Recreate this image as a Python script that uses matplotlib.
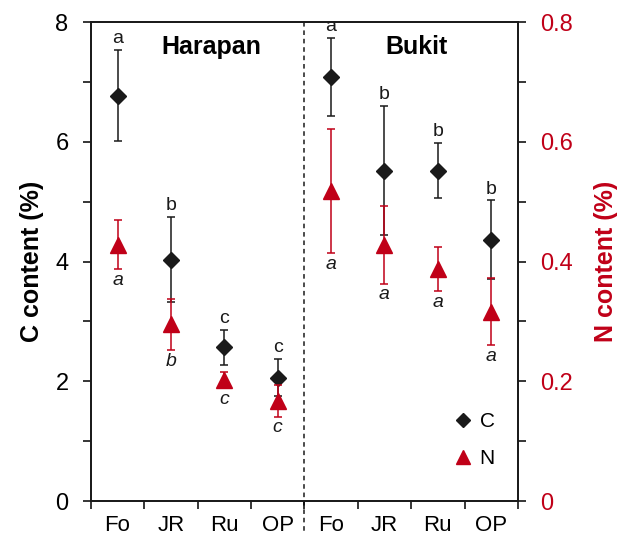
import matplotlib
matplotlib.use('Agg')
import matplotlib.pyplot as plt
from matplotlib.lines import Line2D
import numpy as np

# --- Data: Harapan (Fo, JR, Ru, OP) then Bukit (Fo, JR, Ru, OP) ---
land_use = ['Fo', 'JR', 'Ru', 'OP', 'Fo', 'JR', 'Ru', 'OP']
landscapes = ['Harapan', 'Bukit']

c_mean = [6.77, 4.03, 2.57, 2.06, 7.08, 5.52, 5.52, 4.36]
c_err = [0.76, 0.71, 0.29, 0.31, 0.65, 1.08, 0.46, 0.66]
c_letters = ['a', 'b', 'c', 'c', 'a', 'b', 'b', 'b']

n_mean = [0.428, 0.295, 0.202, 0.167, 0.518, 0.428, 0.387, 0.316]
n_err = [0.041, 0.043, 0.014, 0.026, 0.104, 0.065, 0.037, 0.056]
n_letters = ['a', 'b', 'c', 'c', 'a', 'a', 'a', 'a']

red = '#c00018'
black = '#1a1a1a'

plt.rcParams['font.family'] = ['Liberation Sans', 'DejaVu Sans']

fig = plt.figure(figsize=(6.18, 5.37), dpi=100)
ax = fig.add_axes([0.147, 0.067, 0.691, 0.892])
ax2 = ax.twinx()

x = np.arange(len(land_use)) + 0.5

# --- C (left axis) ---
ax.errorbar(x, c_mean, yerr=c_err, fmt='D', color=black, ms=8.5,
            elinewidth=1.1, capsize=3, capthick=1.1, zorder=3)
for xi, m, e, lab in zip(x, c_mean, c_err, c_letters):
    ax.annotate(lab, (xi, m + e), xytext=(0, 2), textcoords='offset points',
                ha='center', va='bottom', fontsize=14, color=black)

# --- N (right axis) ---
ax2.errorbar(x, n_mean, yerr=n_err, fmt='^', color=red, ms=12,
             elinewidth=1.1, capsize=3, capthick=1.1, zorder=3)
for xi, m, e, lab in zip(x, n_mean, n_err, n_letters):
    lo = min(m - e, m - 0.012)
    ax2.annotate(lab, (xi, lo), xytext=(0, -2), textcoords='offset points',
                 ha='center', va='top', fontsize=14, style='italic', color=black)

# separator between landscapes, running down through the tick labels
ax.plot([4, 4], [8, -0.52], color=black, lw=1.1, ls=(0, (3, 2.5)),
        clip_on=False, zorder=1)
ax.text(2.25, 7.58, landscapes[0], ha='center', va='center',
        fontsize=18, fontweight='bold')
ax.text(6.1, 7.58, landscapes[1], ha='center', va='center',
        fontsize=18, fontweight='bold')

# --- Axes ---
ax.set_xlim(0, 8)
ax.set_ylim(0, 8)
ax2.set_ylim(0, 0.8)
ax.set_xticks(np.arange(0, 9))
ax.set_xticklabels([])
ax.set_xticks(x, minor=True)
ax.set_xticklabels(land_use, minor=True, fontsize=16)
ax.tick_params(axis='x', which='major', direction='out', length=6, width=1.1)
ax.tick_params(axis='x', which='minor', length=0, pad=10)

ax.set_yticks([0, 2, 4, 6, 8])
ax.set_yticks([1, 3, 5, 7], minor=True)
ax.tick_params(axis='y', which='both', direction='out', length=6, width=1.1,
               labelsize=17, pad=10)
ax.set_ylabel('C content (%)', fontsize=18, fontweight='bold', labelpad=8)

ax2.set_yticks([0, 0.2, 0.4, 0.6, 0.8])
ax2.set_yticklabels(['0', '0.2', '0.4', '0.6', '0.8'])
ax2.set_yticks([0.1, 0.3, 0.5, 0.7], minor=True)
ax2.tick_params(axis='y', which='both', direction='out', length=6, width=1.1,
                labelsize=17, labelcolor=red, pad=10)
ax2.set_ylabel('N content (%)', fontsize=18, fontweight='bold', color=red,
               labelpad=15)

for a in (ax, ax2):
    for s in a.spines.values():
        s.set_linewidth(1.3)
        s.set_color(black)

handles = [Line2D([], [], marker='D', color=black, ls='none', ms=7),
           Line2D([], [], marker='^', color=red, ls='none', ms=10)]
ax2.legend(handles, ['C', 'N'], loc='lower right', bbox_to_anchor=(0.99, 0.03),
           frameon=False, fontsize=15, handletextpad=0.3, labelspacing=0.85,
           handlelength=1.0)

fig.savefig('out.png', dpi=100)
